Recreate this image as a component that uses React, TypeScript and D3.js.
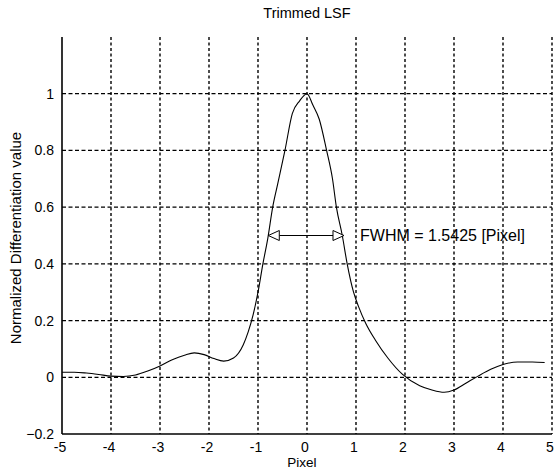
import React from "react";
import * as d3 from "d3";

const pixelX = [-5, -4.75, -4.5, -4.25, -4, -3.75, -3.5, -3.25, -3, -2.75, -2.5, -2.3, -2.1, -1.9, -1.7, -1.5, -1.3, -1.2, -1.1, -1.0, -0.9, -0.8, -0.7, -0.6, -0.45, -0.3, -0.15, 0, 0.12, 0.25, 0.4, 0.52, 0.6, 0.72, 0.82, 0.95, 1.05, 1.2, 1.4, 1.65, 1.95, 2.3, 2.55, 2.8, 3.0, 3.25, 3.5, 3.75, 4.0, 4.3, 4.6, 4.85];
const lsfValues = [0.018, 0.018, 0.015, 0.01, 0.004, 0.003, 0.008, 0.022, 0.04, 0.062, 0.078, 0.086, 0.08, 0.066, 0.057, 0.068, 0.115, 0.16, 0.22, 0.3, 0.4, 0.49, 0.6, 0.68, 0.8, 0.93, 0.975, 1.0, 0.96, 0.91, 0.8, 0.7, 0.6, 0.5, 0.4, 0.3, 0.25, 0.19, 0.13, 0.068, 0.01, -0.03, -0.045, -0.053, -0.045, -0.02, 0.005, 0.028, 0.045, 0.054, 0.054, 0.052];
const xTicks = [-5, -4, -3, -2, -1, 0, 1, 2, 3, 4, 5];
const yTicks = [-0.2, 0, 0.2, 0.4, 0.6, 0.8, 1];
const yGrid = [0, 0.2, 0.4, 0.6, 0.8, 1];
const xGrid = [-4, -3, -2, -1, 0, 1, 2, 3, 4, 5];
const fwhmLeft = -0.79;
const fwhmRight = 0.755;
const fwhmLevel = 0.5;
const fwhmText = "FWHM = 1.5425 [Pixel]";
const title = "Trimmed LSF";
const xLabel = "Pixel";
const yLabel = "Normalized Differentiation value";

export default function App() {
  const W = 555, H = 471;
  const left = 62, right = 552, top = 37, bottom = 434;
  const x = d3.scaleLinear().domain([-5, 5]).range([left, right]);
  const y = d3.scaleLinear().domain([-0.2, 1.2]).range([bottom, top]);
  const pts = pixelX.map((v, i) => [v, lsfValues[i]] as [number, number]);
  const line = d3.line<[number, number]>().x(d => x(d[0])).y(d => y(d[1])).curve(d3.curveMonotoneX);
  const font = "'Liberation Sans', Arial, sans-serif";
  const ax1 = x(fwhmLeft), ax2 = x(fwhmRight), ay = y(fwhmLevel);
  const ah = 11, aw = 5;
  const fmtY = (v: number) => (v === 0 ? "0" : v === 1 ? "1" : d3.format(".1f")(v));
  return (
    <svg width={W} height={H} style={{ position: "absolute", left: 0, top: 0, background: "#fff" }}>
      <rect x={0} y={0} width={W} height={H} fill="#fff" />
      {yGrid.map(t => (
        <line key={"gy" + t} x1={left} x2={right} y1={y(t)} y2={y(t)} stroke="#000" strokeWidth={1.3} strokeDasharray="4,2.5" />
      ))}
      {xGrid.map(t => (
        <line key={"gx" + t} x1={x(t)} x2={x(t)} y1={top} y2={bottom} stroke="#000" strokeWidth={1.4} strokeDasharray="3,2.5" />
      ))}
      <line x1={left} x2={left} y1={top} y2={bottom} stroke="#000" strokeWidth={1.6} />
      <line x1={left} x2={right} y1={bottom} y2={bottom} stroke="#000" strokeWidth={1.6} />
      <path d={line(pts) || ""} fill="none" stroke="#000" strokeWidth={1.1} />
      <line x1={ax1 + ah} x2={ax2 - ah} y1={ay} y2={ay} stroke="#000" strokeWidth={1.2} />
      <path d={`M${ax1},${ay} L${ax1 + ah},${ay - aw} L${ax1 + ah},${ay + aw} Z`} fill="#fff" stroke="#000" strokeWidth={1} />
      <path d={`M${ax2},${ay} L${ax2 - ah},${ay - aw} L${ax2 - ah},${ay + aw} Z`} fill="#fff" stroke="#000" strokeWidth={1} />
      <text x={360} y={ay + 5.5} fontFamily={font} fontSize={16} fill="#000">{fwhmText}</text>
      {yTicks.map(t => (
        <text key={"ty" + t} x={left - 8} y={y(t) + 5} textAnchor="end" fontFamily={font} fontSize={14} fill="#000">{fmtY(t)}</text>
      ))}
      {xTicks.map(t => (
        <text key={"tx" + t} x={x(t) - 2} y={bottom + 18} textAnchor="middle" fontFamily={font} fontSize={14} fill="#000">{t}</text>
      ))}
      <text x={307} y={18} textAnchor="middle" fontFamily={font} fontSize={14.5} fill="#000">{title}</text>
      <text x={302} y={467} textAnchor="middle" fontFamily={font} fontSize={13.5} fill="#000">{xLabel}</text>
      <text transform={`translate(21,238) rotate(-90)`} textAnchor="middle" fontFamily={font} fontSize={15} fill="#000">{yLabel}</text>
    </svg>
  );
}
